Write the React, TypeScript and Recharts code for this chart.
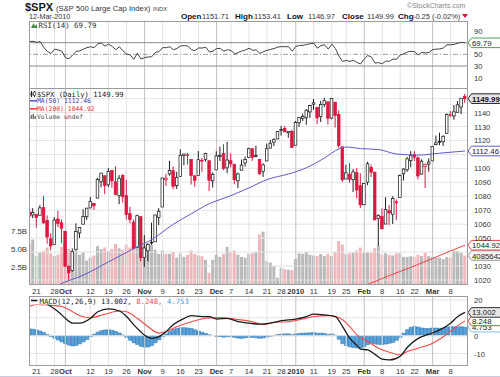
import React from 'react';
import { ComposedChart, Bar, Line, XAxis, YAxis, ReferenceLine, ReferenceDot, Cell } from 'recharts';

const SANS = "'Liberation Sans', Arial, Helvetica, sans-serif";
const MONO = "'DejaVu Sans Mono', 'Liberation Mono', monospace";

// ---------------- data ----------------
const days = [
  'Sep 17','Sep 18','Sep 21','Sep 22','Sep 23','Sep 24','Sep 25','Sep 28','Sep 29','Sep 30',
  'Oct 1','Oct 2','Oct 5','Oct 6','Oct 7','Oct 8','Oct 9','Oct 12','Oct 13','Oct 14',
  'Oct 15','Oct 16','Oct 19','Oct 20','Oct 21','Oct 22','Oct 23','Oct 26','Oct 27','Oct 28',
  'Oct 29','Oct 30','Nov 2','Nov 3','Nov 4','Nov 5','Nov 6','Nov 9','Nov 10','Nov 11',
  'Nov 12','Nov 13','Nov 16','Nov 17','Nov 18','Nov 19','Nov 20','Nov 23','Nov 24','Nov 25',
  'Nov 27','Nov 30','Dec 1','Dec 2','Dec 3','Dec 4','Dec 7','Dec 8','Dec 9','Dec 10',
  'Dec 11','Dec 14','Dec 15','Dec 16','Dec 17','Dec 18','Dec 21','Dec 22','Dec 23','Dec 24',
  'Dec 28','Dec 29','Dec 30','Dec 31','Jan 4','Jan 5','Jan 6','Jan 7','Jan 8','Jan 11',
  'Jan 12','Jan 13','Jan 14','Jan 15','Jan 19','Jan 20','Jan 21','Jan 22','Jan 25','Jan 26',
  'Jan 27','Jan 28','Jan 29','Feb 1','Feb 2','Feb 3','Feb 4','Feb 5','Feb 8','Feb 9',
  'Feb 10','Feb 11','Feb 12','Feb 16','Feb 17','Feb 18','Feb 19','Feb 22','Feb 23','Feb 24',
  'Feb 25','Feb 26','Mar 1','Mar 2','Mar 3','Mar 4','Mar 5','Mar 8','Mar 9','Mar 10',
  'Mar 11','Mar 12',
];

const opens = [
  1068.8,1066.6,1067.1,1066.4,1072.0,1062.6,1049.5,1045.4,1063.7,1061.0,
  1054.9,1029.7,1026.9,1042.0,1053.7,1060.0,1065.3,1071.6,1074.9,1078.7,
  1090.4,1094.7,1088.2,1098.6,1090.4,1080.4,1095.0,1080.4,1067.5,1061.5,
  1043.2,1065.4,1036.2,1040.9,1047.1,1047.3,1064.9,1072.3,1091.9,1096.0,
  1098.3,1087.6,1094.1,1109.2,1109.4,1106.4,1094.7,1094.9,1105.8,1106.5,
  1105.5,1091.1,1098.9,1109.0,1110.6,1100.4,1105.5,1103.0,1091.1,1098.7,
  1103.9,1107.8,1114.1,1108.6,1106.4,1097.9,1105.3,1114.5,1118.8,1121.1,
  1127.5,1128.6,1125.5,1126.6,1116.6,1132.7,1135.7,1136.3,1140.5,1146.0,
  1143.8,1137.3,1145.7,1147.7,1136.0,1147.5,1138.7,1115.5,1092.4,1095.8,
  1091.9,1096.9,1087.6,1073.9,1090.1,1100.7,1097.3,1064.1,1065.5,1060.1,
  1069.7,1067.1,1076.0,1079.1,1096.1,1099.0,1105.5,1110.0,1107.5,1095.9,
  1101.2,1103.1,1105.4,1117.0,1119.4,1119.1,1125.1,1138.4,1137.6,1140.2,
  1144.0,1151.71,
];
const highs = [
  1074.8,1071.5,1067.3,1073.8,1080.2,1066.3,1053.5,1065.1,1069.6,1063.4,
  1054.9,1030.6,1042.6,1060.6,1058.0,1070.7,1071.5,1079.5,1075.3,1093.2,
  1096.6,1094.7,1100.2,1098.6,1101.4,1095.2,1095.8,1091.8,1072.5,1063.3,
  1066.8,1065.4,1052.2,1046.4,1061.0,1066.7,1071.5,1093.2,1096.1,1105.4,
  1101.3,1097.6,1113.7,1110.5,1111.1,1106.4,1094.7,1112.4,1107.6,1111.2,
  1105.5,1097.2,1112.3,1115.6,1117.3,1119.1,1110.7,1103.0,1097.0,1106.3,
  1108.5,1114.8,1114.1,1116.2,1106.4,1103.7,1117.7,1120.3,1121.6,1126.5,
  1130.4,1130.4,1126.4,1127.6,1133.9,1136.6,1139.2,1142.5,1145.4,1149.7,
  1143.8,1148.4,1150.4,1147.7,1150.5,1147.5,1141.6,1115.5,1102.6,1103.7,
  1099.5,1100.2,1096.5,1089.4,1104.7,1102.7,1097.3,1067.1,1071.2,1079.3,
  1073.7,1080.0,1077.8,1095.7,1100.0,1108.2,1112.4,1112.3,1108.6,1106.4,
  1103.5,1107.2,1116.1,1123.5,1125.6,1123.7,1139.4,1141.1,1145.4,1148.3,
  1150.3,1153.41,
];
const lows = [
  1061.2,1064.3,1057.5,1066.4,1060.4,1045.9,1041.2,1045.4,1057.8,1046.5,
  1029.5,1020.0,1025.9,1042.0,1050.1,1060.0,1063.0,1071.6,1070.2,1078.7,
  1086.4,1081.5,1086.5,1086.2,1080.8,1074.3,1075.5,1063.3,1060.6,1042.2,
  1043.2,1033.4,1029.4,1033.4,1045.2,1047.3,1059.3,1072.3,1087.4,1094.7,
  1085.0,1085.3,1094.1,1102.2,1102.7,1088.4,1086.8,1094.9,1097.6,1104.8,
  1083.7,1086.3,1098.9,1105.3,1098.7,1096.5,1100.8,1088.6,1085.9,1098.7,
  1101.3,1107.8,1105.4,1107.9,1095.4,1093.9,1105.3,1114.5,1116.0,1121.1,
  1123.5,1126.2,1121.9,1114.8,1116.6,1129.7,1133.9,1131.3,1136.2,1142.0,
  1131.8,1133.2,1143.8,1131.4,1135.2,1129.3,1114.8,1090.2,1092.4,1089.9,
  1083.1,1078.5,1071.6,1073.9,1088.0,1093.8,1062.8,1044.5,1056.5,1060.1,
  1059.3,1060.1,1063.0,1079.1,1091.3,1097.5,1100.8,1105.4,1092.2,1095.5,
  1086.0,1097.6,1105.4,1116.5,1116.6,1116.1,1125.1,1136.8,1134.9,1140.1,
  1139.0,1146.97,
];
const closes = [
  1065.5,1068.3,1064.7,1071.7,1060.9,1050.8,1044.4,1063.0,1060.6,1057.1,
  1029.9,1025.2,1040.5,1054.7,1057.6,1065.5,1071.5,1076.2,1073.2,1092.0,
  1096.6,1087.7,1097.9,1091.1,1081.4,1092.9,1079.6,1067.0,1063.4,1042.6,
  1066.1,1036.2,1042.9,1045.4,1046.5,1066.6,1069.3,1093.1,1093.0,1098.5,
  1087.2,1093.5,1109.3,1110.3,1109.8,1094.9,1091.4,1106.2,1105.7,1110.6,
  1091.5,1095.6,1108.9,1109.2,1099.9,1106.0,1103.3,1091.9,1096.0,1102.4,
  1106.4,1114.1,1107.9,1109.2,1096.1,1102.5,1114.1,1118.0,1120.6,1126.5,
  1127.8,1126.2,1126.4,1115.1,1133.0,1136.5,1137.1,1141.7,1145.0,1147.0,
  1136.2,1145.7,1148.5,1136.0,1150.2,1138.0,1116.5,1091.8,1096.8,1092.2,
  1097.5,1084.5,1073.9,1089.2,1103.3,1097.3,1063.1,1066.2,1056.7,1070.5,
  1068.1,1078.5,1075.5,1094.9,1099.5,1106.8,1109.2,1108.0,1094.6,1105.2,
  1102.9,1104.5,1115.7,1118.3,1118.8,1123.0,1138.7,1138.5,1140.5,1145.6,
  1150.24,1149.99,
];
const prevClose0 = 1068.76;

// volume in billions of shares
const volumesB = [
  5.7,6.3,4.0,4.5,4.7,5.2,4.4,4.0,4.2,5.3,
  5.9,5.0,4.6,5.1,4.2,4.5,3.4,3.8,4.1,5.4,
  5.0,5.2,4.7,5.0,5.7,5.1,4.9,5.6,5.2,6.1,
  5.3,6.5,5.4,5.1,5.6,4.9,4.3,4.8,4.3,4.3,
  4.6,3.8,4.4,3.9,4.2,4.8,4.3,4.1,4.0,3.5,
  1.7,3.5,4.2,3.9,4.3,5.3,4.6,4.8,4.2,3.9,
  3.8,4.3,4.4,4.6,7.0,7.4,3.3,3.1,2.6,1.0,
  2.4,2.2,2.1,2.1,3.6,4.4,4.3,4.6,4.2,4.1,
  4.0,4.3,4.0,4.3,4.0,4.6,6.1,5.6,4.3,4.4,
  4.5,4.8,5.2,4.4,4.5,4.5,5.1,5.5,4.2,4.4,
  4.2,4.1,4.4,4.4,3.9,3.9,4.0,3.9,4.2,4.0,
  4.5,4.0,3.9,3.8,3.8,3.6,3.9,3.8,4.8,4.7,
  4.5,4.09,
];
const volLabel = '4085642240';

const ma50Pts: [number, number][] = [
  [0,1006],[4,1010.5],[8,1016.4],[15,1023.5],[22,1033],[29,1042.5],[34,1049],[40,1060],
  [45,1067.5],[49,1073.5],[56,1080.5],[61,1086],[66,1092],[72,1096],[77,1100.5],[82,1107.5],
  [86,1114],[88,1115.3],[92,1114.2],[97,1113.5],[102,1110.3],[108,1109.5],[114,1110.9],[121,1112.46],
];
const ma200Pts: [number, number][] = [
  [80,1002.3],[88,1010.6],[94,1016.8],[100,1023.2],[106,1029.1],[112,1035.4],[117,1040.9],[121,1044.92],
];

const rsi14 = [
  71.8,72.5,70.5,72.0,62.0,55.0,51.5,59.0,57.5,55.5,
  44.5,42.5,49.0,55.0,56.0,59.0,61.5,63.0,61.5,68.0,
  69.3,64.0,67.5,63.5,58.0,63.0,56.0,50.5,49.0,41.5,
  52.0,42.0,44.5,45.5,46.0,53.5,54.5,61.5,61.5,63.0,
  58.0,60.0,64.5,64.8,64.5,58.0,56.5,61.0,60.8,62.3,
  54.0,55.5,60.0,60.2,55.5,58.0,56.5,51.0,53.0,55.8,
  57.5,60.5,57.0,57.6,51.5,54.5,57.0,58.5,60.0,62.5,
  63.3,63.0,63.3,55.5,63.5,65.2,65.4,67.0,68.2,69.0,
  60.6,65.0,66.5,59.0,67.5,60.0,47.0,37.8,39.5,38.0,
  40.0,36.0,33.5,42.0,48.0,45.5,35.0,35.8,33.8,38.5,
  38.0,42.0,41.5,49.0,51.0,54.0,55.3,54.8,49.0,53.5,
  52.5,53.0,58.0,59.0,59.3,61.0,66.5,66.4,67.2,69.0,
  70.8,69.79,
];

const macdPts: [number, number][] = [
  [0,19.6],[2,19.8],[4,18.8],[6,16.3],[8,13.4],[10,9.7],[12,7.0],[14,7.0],[17,9.7],[19,13.4],
  [22,15.0],[25,13.8],[27,10.7],[29,6.0],[31,2.0],[32,0.2],[34,-1.5],[36,-0.6],[38,2.3],[40,6.2],
  [43,9.7],[45,11.2],[48,10.7],[50,10.7],[52,9.3],[55,9.7],[58,7.8],[61,7.0],[64,6.4],[67,7.0],
  [70,8.4],[74,9.3],[77,10.7],[79,12.0],[82,11.6],[85,10.7],[87,5.0],[89,-1.5],[91,-5.5],[92,-7.5],
  [94,-8.0],[96,-10.5],[98,-13.2],[100,-13.6],[103,-11.5],[105,-6.5],[108,-1.5],[111,0.8],[114,3.2],
  [117,7.0],[119,10.7],[121,13.002],
];
const signalPts: [number, number][] = [
  [0,16.5],[2,17.5],[5,17.2],[9,16.3],[12,13.4],[14,11.2],[17,10.1],[21,12.0],[25,13.8],[27,13.4],
  [30,9.7],[33,5.0],[36,1.4],[38,2.3],[41,5.0],[45,7.8],[49,9.7],[52,10.1],[57,9.3],[62,7.8],
  [65,6.2],[68,7.5],[72,7.8],[76,9.3],[79,10.7],[83,11.2],[86,10.1],[89,5.0],[91,0.4],[94,-3.3],
  [97,-7.1],[100,-9.3],[103,-10.8],[105,-8.9],[108,-7.1],[112,-4.2],[115,-0.6],[118,4.1],[121,8.248],
];
const histogram = [
  3.8,3.6,3.2,2.6,1.8,0.6,-0.5,-1.5,-2.5,-3.5,
  -4.5,-5.3,-5.8,-5.5,-4.6,-3.5,-2.2,-0.6,0.8,2.0,
  2.8,3.2,3.3,3.0,2.4,1.5,0.4,-1.0,-2.6,-4.0,
  -5.0,-6.0,-6.4,-6.4,-5.6,-4.0,-2.4,-0.6,1.0,2.4,
  3.4,4.0,4.4,4.5,4.3,4.0,3.3,2.6,1.9,1.2,
  0.5,0.0,-0.4,-0.5,-0.9,-0.6,-0.6,-1.0,-1.4,-1.5,
  -1.2,-1.0,-1.0,-1.2,-1.5,-1.3,-0.8,-0.3,0.2,0.6,
  0.9,1.0,1.0,0.5,1.0,1.2,1.4,1.5,1.6,1.8,
  1.3,1.4,1.2,0.6,1.0,0.3,-2.0,-4.5,-5.6,-6.3,
  -6.7,-6.9,-7.0,-6.2,-5.0,-4.2,-4.7,-4.9,-5.0,-4.7,
  -4.3,-3.8,-2.6,-1.0,1.4,3.4,4.7,5.2,4.8,4.3,
  4.0,4.0,4.3,4.2,4.1,4.0,4.7,5.0,5.0,4.9,
  5.0,4.753,
];

const tickIdx = [2,7,10,17,22,27,32,37,42,47,52,56,61,66,70,74,79,84,88,93,98,103,107,112,117];
const tickLabels = ['21','28','Oct','12','19','26','Nov','9','16','23','Dec','7','14','21','28','2010','11','19','25','Feb','8','16','22','Mar','8'];
const monthIdx = [10,32,52,74,93,112];
const priceTicks = [1020,1030,1040,1050,1060,1070,1080,1090,1100,1110,1120,1130,1140,1150];
const volTicks = [2.5,5,7.5];
const rsiTicks = [10,30,50,70,90];
const macdTicks = [-10,0,10,20];

const quote = { date: '12-Mar-2010', open: '1151.71', high: '1153.41', low: '1146.97', close: '1149.99', chg: '-0.25 (-0.02%)' };

// ---------------- build table ----------------
const m50 = new Map(ma50Pts);
const m200 = new Map(ma200Pts);
const mMacd = new Map(macdPts);
const mSig = new Map(signalPts);
const rows = days.map((day, i) => ({
  i,
  day,
  open: opens[i],
  high: highs[i],
  low: lows[i],
  close: closes[i],
  prev: i === 0 ? prevClose0 : closes[i - 1],
  range: [lows[i], highs[i]],
  vol: volumesB[i],
  ma50: m50.has(i) ? m50.get(i) : null,
  ma200: m200.has(i) ? m200.get(i) : null,
  rsi: rsi14[i],
  macd: mMacd.has(i) ? mMacd.get(i) : null,
  signal: mSig.has(i) ? mSig.get(i) : null,
  hist: histogram[i],
}));
const last = rows.length - 1;

// ---------------- styling ----------------
const XDOM: [number, number] = [-0.11, 121.83];
const PDOM: [number, number] = [1016.4, 1156.9];
const VDOM: [number, number] = [0, 27.2];
const RDOM: [number, number] = [-9.4, 107.2];
const MDOM: [number, number] = [-17, 22.2];
const GRID = '#e3e3e3';
const GRID_DARK = '#c2c2c2';
const RED = '#dc1840';
const BLACK = '#1e1e1e';
const VOL_UP = '#b9b9b9';
const VOL_DOWN = '#f1b5ba';

const rightTick = (hidden: number[]) => (p: any) => {
  const v = p.payload ? p.payload.value : null;
  if (v == null || hidden.includes(v)) return <g />;
  return (
    <text x={p.x + 4} y={p.y} dy={3} fontSize={7.6} fill="#333" fontFamily={SANS} textAnchor="start">
      {String(v)}
    </text>
  );
};

const leftVolTick = (p: any) => {
  const v = p.payload ? p.payload.value : 0;
  return (
    <text x={p.x} y={p.y} dy={3} fontSize={7.8} fill="#333" fontFamily={SANS} textAnchor="end">
      {v.toFixed(1) + 'B'}
    </text>
  );
};

const xTick = (dy: number) => (p: any) => {
  const v = p.payload ? p.payload.value : null;
  const k = tickIdx.indexOf(v);
  if (k < 0) return <g />;
  const bold = monthIdx.includes(v);
  return (
    <text x={p.x} y={p.y} dy={dy} fontSize={7.6} fill="#333" fontFamily={SANS} textAnchor="middle" fontWeight={bold ? 'bold' : 'normal'}>
      {tickLabels[k]}
    </text>
  );
};

function Candle(props: any) {
  const { x, y, width, height, payload } = props;
  if (!payload || x == null || y == null) return null;
  const top = Math.min(y, y + height);
  const h = Math.abs(height);
  const { open, close, high, low, prev } = payload;
  const span = high - low;
  const py = (v: number) => top + (span > 0 ? ((high - v) / span) * h : 0);
  const cx = x + width / 2;
  const col = close < prev ? RED : BLACK;
  const bTop = py(Math.max(open, close));
  const bBot = py(Math.min(open, close));
  const filled = close < open;
  return (
    <g>
      <line x1={cx} x2={cx} y1={top} y2={top + h} stroke={col} strokeWidth={1} />
      <rect x={cx - 1.3} y={bTop} width={2.6} height={Math.max(bBot - bTop, 0.8)} fill={filled ? col : '#fff'} stroke={col} strokeWidth={0.75} />
    </g>
  );
}

const valueBox = (text: string, border: string, opts: { fill?: string; color?: string; bold?: boolean } = {}) => (p: any) => {
  const vb = p.viewBox || {};
  const cx = (vb.x ?? 0) + (vb.width ?? 0) / 2;
  const cy = (vb.y ?? 0) + (vb.height ?? 0) / 2;
  const x0 = cx + 3;
  const w = 40;
  const h = 9.6;
  return (
    <g>
      <path
        d={`M${x0},${cy} L${x0 + 3.5},${cy - h / 2} H${x0 + w} V${cy + h / 2} H${x0 + 3.5} Z`}
        fill={opts.fill || '#fff'}
        stroke={border}
        strokeWidth={1}
      />
      <text x={x0 + 4} y={cy + 3} fontSize={7.8} fill={opts.color || '#222'} fontFamily={SANS} fontWeight={opts.bold ? 'bold' : 'normal'}>
        {text}
      </text>
    </g>
  );
};

// ---------------- charts ----------------
function RsiChart() {
  return (
    <ComposedChart width={500} height={68} data={rows} margin={{ top: 0, right: 0, bottom: 0, left: 29 }}>
      <XAxis type="number" dataKey="i" domain={XDOM} allowDataOverflow hide ticks={tickIdx} />
      <YAxis orientation="right" width={32} domain={RDOM} allowDataOverflow ticks={rsiTicks} interval={0}
        axisLine={false} tickLine={false} tickSize={0} tickMargin={2} tick={rightTick([70])} />
      {tickIdx.map((t) => (
        <ReferenceLine key={'rv' + t} x={t} stroke={monthIdx.includes(t) ? GRID_DARK : GRID} strokeWidth={1} />
      ))}
      <ReferenceLine y={70} stroke="#8c8c8c" strokeWidth={1} />
      <ReferenceLine y={30} stroke="#8c8c8c" strokeWidth={1} />
      <ReferenceLine y={50} stroke="#a0a0a0" strokeWidth={1} strokeDasharray="5 2 1 2" />
      <Line dataKey="rsi" stroke="#444" strokeWidth={1} dot={false} activeDot={false} isAnimationActive={false} />
      <ReferenceDot x={last} y={rsi14[last]} r={1} fill="none" stroke="none" ifOverflow="visible"
        label={valueBox(rsi14[last].toFixed(2), '#4f9f4f')} />
    </ComposedChart>
  );
}

function VolumeChart() {
  return (
    <ComposedChart width={500} height={208} data={rows} margin={{ top: 0, right: 0, bottom: 0, left: 0 }}>
      <XAxis type="number" dataKey="i" domain={XDOM} allowDataOverflow height={12} ticks={tickIdx} tick={false} axisLine={false} tickLine={false} />
      <YAxis yAxisId="v" orientation="left" width={29} domain={VDOM} allowDataOverflow ticks={volTicks} interval={0}
        axisLine={false} tickLine={false} tickSize={0} tickMargin={2} tick={leftVolTick} />
      <YAxis yAxisId="p" orientation="right" width={32} domain={PDOM} allowDataOverflow ticks={priceTicks} tick={false} axisLine={false} tickLine={false} />
      {priceTicks.map((t) => (
        <ReferenceLine key={'ph' + t} yAxisId="p" y={t} stroke={GRID} strokeWidth={1} />
      ))}
      {tickIdx.map((t) => (
        <ReferenceLine key={'pv' + t} yAxisId="p" x={t} stroke={monthIdx.includes(t) ? GRID_DARK : GRID} strokeWidth={1} />
      ))}
      <Bar yAxisId="v" dataKey="vol" barSize={3} isAnimationActive={false}>
        {rows.map((r) => (
          <Cell key={'c' + r.i} fill={r.close < r.prev ? VOL_DOWN : VOL_UP} />
        ))}
      </Bar>
      <ReferenceDot yAxisId="v" x={last} y={volumesB[last]} r={1} fill="none" stroke="none" ifOverflow="visible"
        label={valueBox(volLabel, '#9a9a9a', { fill: '#f4f4f4' })} />
    </ComposedChart>
  );
}

function PriceChart() {
  return (
    <ComposedChart width={500} height={208} data={rows} margin={{ top: 0, right: 0, bottom: 0, left: 29 }}>
      <XAxis type="number" dataKey="i" domain={XDOM} allowDataOverflow height={12} ticks={tickIdx} interval={0}
        axisLine={false} tickLine={false} tickSize={0} tickMargin={2} tick={xTick(7)} />
      <YAxis orientation="right" width={32} domain={PDOM} allowDataOverflow ticks={priceTicks} interval={0}
        axisLine={false} tickLine={false} tickSize={0} tickMargin={2} tick={rightTick([1040, 1110, 1150])} />
      <Line dataKey="ma50" type="monotone" connectNulls stroke="#5c5cc6" strokeWidth={1} dot={false} activeDot={false} isAnimationActive={false} />
      <Line dataKey="ma200" type="monotone" connectNulls stroke="#f04444" strokeWidth={1} dot={false} activeDot={false} isAnimationActive={false} />
      <Bar dataKey="range" barSize={3} shape={Candle} isAnimationActive={false} />
      <ReferenceDot x={last} y={ma200Pts[ma200Pts.length - 1][1]} r={1} fill="none" stroke="none" ifOverflow="visible"
        label={valueBox(ma200Pts[ma200Pts.length - 1][1].toFixed(2), '#e84848')} />
      <ReferenceDot x={last} y={ma50Pts[ma50Pts.length - 1][1]} r={1} fill="none" stroke="none" ifOverflow="visible"
        label={valueBox(ma50Pts[ma50Pts.length - 1][1].toFixed(2), '#5c5cc6')} />
      <ReferenceDot x={last} y={closes[last]} r={1} fill="none" stroke="none" ifOverflow="visible"
        label={valueBox(closes[last].toFixed(2), '#222', { fill: '#e6e6e6', bold: true, color: '#111' })} />
    </ComposedChart>
  );
}

function MacdChart() {
  return (
    <ComposedChart width={500} height={81} data={rows} margin={{ top: 0, right: 0, bottom: 0, left: 29 }}>
      <XAxis type="number" dataKey="i" domain={XDOM} allowDataOverflow height={11} ticks={tickIdx} interval={0}
        axisLine={false} tickLine={false} tickSize={0} tickMargin={2} tick={xTick(6)} />
      <YAxis orientation="right" width={32} domain={MDOM} allowDataOverflow ticks={macdTicks} interval={0}
        axisLine={false} tickLine={false} tickSize={0} tickMargin={2} tick={rightTick([10])} />
      {macdTicks.map((t) => (
        <ReferenceLine key={'mh' + t} y={t} stroke={GRID} strokeWidth={1} />
      ))}
      {tickIdx.map((t) => (
        <ReferenceLine key={'mv' + t} x={t} stroke={monthIdx.includes(t) ? GRID_DARK : GRID} strokeWidth={1} />
      ))}
      <Bar dataKey="hist" barSize={3.6} fill="#5aa3db" stroke="#2e70aa" strokeWidth={0.5} isAnimationActive={false} />
      <Line dataKey="signal" type="monotone" connectNulls stroke="#f04a4a" strokeWidth={1.1} dot={false} activeDot={false} isAnimationActive={false} />
      <Line dataKey="macd" type="monotone" connectNulls stroke="#1c1c1c" strokeWidth={1.3} dot={false} activeDot={false} isAnimationActive={false} />
      <ReferenceDot x={last} y={histogram[last]} r={1} fill="none" stroke="none" ifOverflow="visible"
        label={valueBox(histogram[last].toFixed(3), '#7cc0e8')} />
      <ReferenceDot x={last} y={signalPts[signalPts.length - 1][1]} r={1} fill="none" stroke="none" ifOverflow="visible"
        label={valueBox(signalPts[signalPts.length - 1][1].toFixed(3), '#e84848')} />
      <ReferenceDot x={last} y={macdPts[macdPts.length - 1][1]} r={1} fill="none" stroke="none" ifOverflow="visible"
        label={valueBox(macdPts[macdPts.length - 1][1].toFixed(3), '#333', { fill: '#e6e6e6' })} />
    </ComposedChart>
  );
}

function Overlay() {
  const t = { fontFamily: SANS };
  return (
    <svg width={500} height={377} style={{ position: 'absolute', left: 0, top: 0, pointerEvents: 'none' }}>
      {/* header */}
      <text x={25} y={11} fontSize={11} fontWeight="bold" fill="#1a1a1a" {...t}>$SPX</text>
      <text x={56} y={10.5} fontSize={7.7} fill="#333" {...t}>(S&amp;P 500 Large Cap Index)</text>
      <text x={153} y={10.5} fontSize={6} fill="#444" {...t}>INDX</text>
      <text x={407} y={8} fontSize={7} fill="#888" {...t}>©StockCharts.com</text>
      <text x={29} y={18.5} fontSize={7.2} fill="#333" {...t}>{quote.date}</text>
      <text x={181} y={18.5} fontSize={8} fontWeight="bold" fill="#111" {...t}>Open</text>
      <text x={202} y={18.5} fontSize={7.6} fill="#333" {...t}>{quote.open}</text>
      <text x={235} y={18.5} fontSize={8} fontWeight="bold" fill="#111" {...t}>High</text>
      <text x={254} y={18.5} fontSize={7.6} fill="#333" {...t}>{quote.high}</text>
      <text x={287} y={18.5} fontSize={8} fontWeight="bold" fill="#111" {...t}>Low</text>
      <text x={308} y={18.5} fontSize={7.6} fill="#333" {...t}>{quote.low}</text>
      <text x={342} y={18.5} fontSize={8} fontWeight="bold" fill="#111" {...t}>Close</text>
      <text x={367} y={18.5} fontSize={7.6} fill="#333" {...t}>{quote.close}</text>
      <text x={398} y={18.5} fontSize={8} fontWeight="bold" fill="#111" {...t}>Chg</text>
      <text x={413} y={18.5} fontSize={7.4} fill="#333" {...t}>{quote.chg}</text>
      <path d="M462,14 L468,14 L465,18 Z" fill="#d8143c" />

      {/* panel frames */}
      <rect x={29.5} y={21.5} width={438} height={67} fill="none" stroke="#9c9c9c" strokeWidth={1} />
      <rect x={29.5} y={88.5} width={438} height={196} fill="none" stroke="#9c9c9c" strokeWidth={1} />
      <rect x={29.5} y={296.5} width={438} height={69} fill="none" stroke="#9c9c9c" strokeWidth={1} />
      <line x1={0} x2={500} y1={376.5} y2={376.5} stroke="#c9c9e2" strokeWidth={1} />

      {/* RSI legend */}
      <path d="M31,28 L33.5,23 L35,26 L36.5,24 L37.5,28 Z" fill="#4a8a4a" />
      <text x={38.5} y={28} fontSize={7.4} fill="#333" fontFamily={MONO}>{'RSI(14) ' + rsi14[last].toFixed(2)}</text>

      {/* price legend */}
      <line x1={31.5} x2={31.5} y1={91} y2={97} stroke="#222" strokeWidth={1} />
      <rect x={30.5} y={92.5} width={2} height={3} fill="#222" />
      <line x1={34.5} x2={34.5} y1={91} y2={97} stroke="#222" strokeWidth={1} />
      <rect x={33.5} y={92} width={2} height={3.5} fill="#fff" stroke="#222" strokeWidth={0.6} />
      <text x={37} y={96.5} fontSize={7.2} fill="#222" fontFamily={MONO}>{'$SPX (Daily) ' + closes[last].toFixed(2)}</text>
      <line x1={30} x2={37} y1={100.8} y2={100.8} stroke="#5c5cc6" strokeWidth={1.6} />
      <text x={37} y={103} fontSize={6.4} fill="#4545b8" fontFamily={MONO}>{'MA(50) ' + ma50Pts[ma50Pts.length - 1][1].toFixed(2)}</text>
      <line x1={30} x2={37} y1={108.8} y2={108.8} stroke="#f04444" strokeWidth={1.6} />
      <text x={37} y={111} fontSize={6.4} fill="#e83232" fontFamily={MONO}>{'MA(200) ' + ma200Pts[ma200Pts.length - 1][1].toFixed(2)}</text>
      <rect x={30.5} y={115} width={1.5} height={4} fill="#777" />
      <rect x={32.5} y={114} width={1.5} height={5} fill="#777" />
      <rect x={34.5} y={116} width={1.5} height={3} fill="#777" />
      <text x={37} y={119} fontSize={6.4} fill="#555" fontFamily={MONO}>Volume undef</text>

      {/* MACD legend */}
      <rect x={30} y={297} width={160} height={7.5} fill="#fff" />
      <line x1={31} x2={37.5} y1={300.5} y2={300.5} stroke="#1c1c1c" strokeWidth={1.6} />
      <text x={39.5} y={303.5} fontSize={7.3} fontFamily={MONO}>
        <tspan fill="#222">{'MACD(12,26,9) ' + macdPts[macdPts.length - 1][1].toFixed(3) + ','}</tspan>
        <tspan fill="#f04040">{' ' + signalPts[signalPts.length - 1][1].toFixed(3) + ','}</tspan>
        <tspan fill="#3f9ad6">{' ' + histogram[last].toFixed(3)}</tspan>
      </text>
    </svg>
  );
}

export default function App() {
  return (
    <div style={{ position: 'absolute', left: 0, top: 0, width: 500, height: 377, background: '#fff', overflow: 'hidden', fontFamily: SANS }}>
      <div style={{ position: 'absolute', left: 0, top: 21 }}>
        <RsiChart />
      </div>
      <div style={{ position: 'absolute', left: 0, top: 89 }}>
        <VolumeChart />
      </div>
      <div style={{ position: 'absolute', left: 0, top: 89 }}>
        <PriceChart />
      </div>
      <div style={{ position: 'absolute', left: 0, top: 296 }}>
        <MacdChart />
      </div>
      <Overlay />
    </div>
  );
}
